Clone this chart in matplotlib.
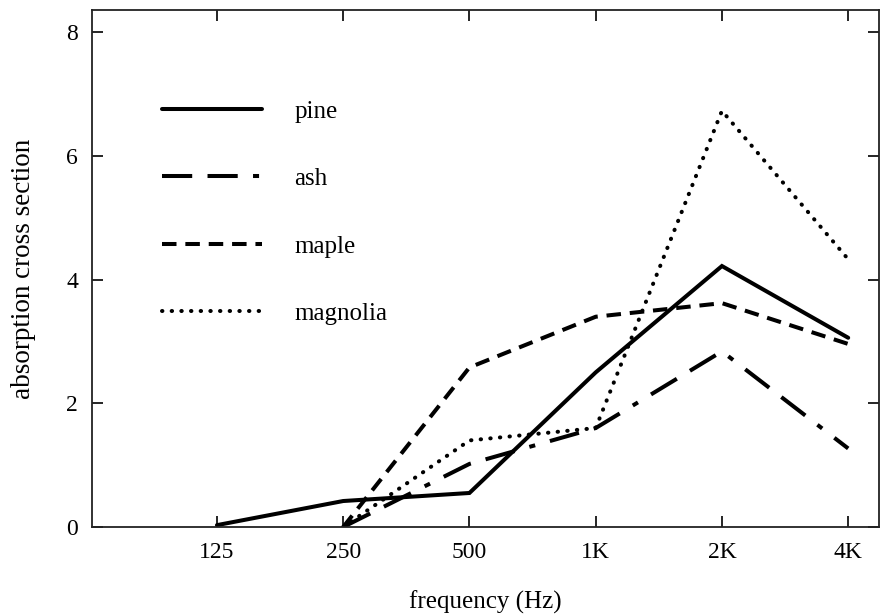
import matplotlib
matplotlib.use("Agg")
import matplotlib.pyplot as plt

freq_labels = ["125", "250", "500", "1K", "2K", "4K"]
y_ticks = [0, 2, 4, 6, 8]

pine_x = [0, 1, 2, 3, 4, 5]
pine = [0.03, 0.42, 0.55, 2.5, 4.22, 3.06]

ash_x = [1, 2, 3, 4, 5]
ash = [0.0, 1.02, 1.6, 2.84, 1.27]

maple_x = [1, 2, 3, 4, 5]
maple = [0.0, 2.58, 3.4, 3.62, 2.96]

magnolia_x = [1, 2, 3, 4, 5]
magnolia = [0.0, 1.4, 1.6, 6.73, 4.33]

plt.rcParams['font.family'] = ['Liberation Serif', 'DejaVu Serif']

fig = plt.figure(figsize=(8.8, 6.14), dpi=100)
ax = fig.add_axes([0.1045, 0.1417, 0.999 - 0.1045, 0.9837 - 0.1417])

lw = 2.9
ax.plot(pine_x, pine, color='black', lw=lw, linestyle='-', label='pine',
        solid_capstyle='round', solid_joinstyle='miter')
ax.plot(ash_x, ash, color='black', lw=lw, linestyle=(0, (7.5, 3.8, 7.5, 3.8, 1.5, 3.8)),
        label='ash', dash_capstyle='butt')
ax.plot(maple_x, maple, color='black', lw=lw, linestyle=(0, (3.6, 2.2)),
        label='maple', dash_capstyle='butt')
ax.plot(magnolia_x, magnolia, color='black', lw=lw, linestyle=(0, (0.1, 2.3)),
        label='magnolia', dash_capstyle='round')

ax.set_xlim(-0.99, 5.245)
ax.set_ylim(0, 8.36)
ax.set_xticks(range(len(freq_labels)))
ax.set_xticklabels(freq_labels)
ax.set_yticks(y_ticks)

ax.tick_params(direction='in', length=8, width=1.2, top=True, right=True,
               labelsize=17, colors='black')
ax.tick_params(axis='x', pad=11)
ax.tick_params(axis='y', pad=10)
for s in ax.spines.values():
    s.set_linewidth(1.3)
    s.set_color('#222222')

ax.set_xlabel('frequency (Hz)', fontsize=18, labelpad=20)
ax.set_ylabel('absorption cross section', fontsize=19.5, labelpad=22)

leg = ax.legend(loc='upper left', bbox_to_anchor=(0.076, 0.845), frameon=False,
                fontsize=18, handlelength=4.0, handletextpad=1.3,
                labelspacing=1.8, borderaxespad=0)

fig.savefig('out.png', dpi=100)
